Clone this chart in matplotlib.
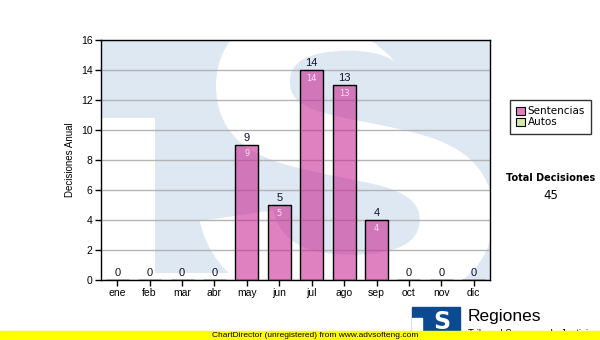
import matplotlib
matplotlib.use("Agg")

import matplotlib.pyplot as plt
import numpy as np
from matplotlib.patches import Rectangle, PathPatch, Polygon
from matplotlib.textpath import TextPath
from matplotlib.font_manager import FontProperties
from matplotlib.transforms import Affine2D


meses = ["ene", "feb", "mar", "abr", "may", "jun",
         "jul", "ago", "sep", "oct", "nov", "dic"]
sentencias = [0, 0, 0, 0, 9, 5, 14, 13, 4, 0, 0, 0]
autos = [0, 0, 0, 0, 0, 0, 0, 0, 0, 0, 0, 0]
total = 45

rosa = "#cb2b96"
verde = "#d4eaa0"
azul_claro = "#dde8f2"


def px(x, y):
    # pixel del lienzo -> coordenadas del eje
    return ((x - 101) / 389, (280 - y) / 240)


fig = plt.figure(figsize=(6, 3.4), dpi=100)
ax = fig.add_axes([101 / 600, 60 / 340, 389 / 600, 240 / 340])

# marca de agua "TS"
ax.set_facecolor(azul_claro)
ax.add_patch(Rectangle((0, 0), 0.139, 0.675, transform=ax.transAxes,
                       color="white", zorder=0, lw=0))
ax.add_patch(Rectangle((0, 0), 0.55, 0.03, transform=ax.transAxes,
                       color="white", zorder=0, lw=0))
tp = TextPath((0, 0), "S", size=1, prop=FontProperties(family="Liberation Sans", weight="bold"))
ext = tp.get_extents()
x0, x1, y0, y1 = 0.265, 1.0, -0.1, 1.15
tr = (Affine2D().translate(-ext.x0, -ext.y0)
      .scale((x1 - x0) / ext.width, (y1 - y0) / ext.height)
      .translate(x0, y0) + ax.transAxes)
s_patch = PathPatch(tp, transform=tr, facecolor="white", edgecolor="white",
                    lw=5, zorder=0)
ax.add_patch(s_patch)
s_patch.set_clip_path(ax.patch)
esquina = [px(412, 112), px(410, 92), px(402, 72), px(390, 56), px(376, 44),
           px(368, 40), px(490, 40), px(490, 112)]
ax.add_patch(Polygon(esquina, closed=True, transform=ax.transAxes,
                     color=azul_claro, lw=0, zorder=0.5))

x = np.arange(len(meses))
ax.bar(x, sentencias, width=0.71, color=rosa, alpha=0.6, edgecolor="none", zorder=3)
ax.bar(x, sentencias, width=0.71, facecolor="none", edgecolor="black", lw=1, zorder=4)

for xi, v in zip(x, sentencias):
    ax.text(xi, v + 0.15, str(v), ha="center", va="bottom", fontsize=8,
            family="Liberation Sans", color="#101030", zorder=5)
    if v > 0:
        ax.text(xi, v - 0.25, str(v), ha="center", va="top", fontsize=6,
                family="DejaVu Sans", color="#f8e0f0", zorder=5)

ax.set_xlim(-0.5, 11.5)
ax.set_ylim(0, 16)
ax.set_yticks(range(0, 17, 2))
ax.set_xticks(x)
ax.set_xticklabels(meses)
ax.yaxis.grid(True, color="#b4b4b4", lw=1, zorder=1)
ax.set_axisbelow(True)
ax.tick_params(labelsize=7.5, length=4, width=1, color="black", pad=2)
for lab in ax.get_xticklabels() + ax.get_yticklabels():
    lab.set_family("Liberation Sans")
for sp in ax.spines.values():
    sp.set_linewidth(1)
ax.set_ylabel("Decisiones Anual", fontsize=7, family="Liberation Sans", labelpad=4)

# leyenda
leg_h = [Rectangle((0, 0), 1, 1, facecolor="#e080c0", edgecolor="black", lw=0.8),
         Rectangle((0, 0), 1, 1, facecolor=verde, edgecolor="black", lw=0.8)]
leg = fig.legend(leg_h, ["Sentencias", "Autos"], loc="upper left",
                 bbox_to_anchor=(510 / 600, 1 - 100 / 340), fontsize=7.5,
                 frameon=True, fancybox=False, edgecolor="black",
                 handlelength=0.8, handleheight=0.8, handletextpad=0.3,
                 borderpad=0.6, labelspacing=0.1, borderaxespad=0)
leg.get_frame().set_linewidth(1)

fig.text(551 / 600, 1 - 178 / 340, "Total Decisiones", ha="center", va="center",
         fontsize=7, weight="bold", family="DejaVu Sans")
fig.text(551 / 600, 1 - 196 / 340, str(total), ha="center", va="center",
         fontsize=8.5, family="DejaVu Sans")

# logo inferior
fig.patches.append(Rectangle((412 / 600, 1 - 336 / 340), 48 / 600, 29 / 340,
                             transform=fig.transFigure, color="#0b4a90", zorder=1))
fig.patches.append(Rectangle((412 / 600, 1 - 336 / 340), 10 / 600, 18 / 340,
                             transform=fig.transFigure, color="white", zorder=2))
fig.text(442 / 600, 1 - 322 / 340, "S", ha="center", va="center", fontsize=17,
         weight="bold", color="white", family="DejaVu Sans", zorder=3)
fig.text(468 / 600, 1 - 316 / 340, "Regiones", ha="left", va="center",
         fontsize=12.5, family="Liberation Sans", color="black", zorder=2)
fig.text(468 / 600, 1 - 334 / 340, "Tribunal Supremo de Justicia", ha="left",
         va="center", fontsize=7, family="Liberation Sans", zorder=2)

# banda amarilla
fig.patches.append(Rectangle((0, 0), 1, 9.5 / 340, transform=fig.transFigure,
                             color="#ffff00", zorder=5))
fig.text(315 / 600, 4.5 / 340, "ChartDirector (unregistered) from www.advsofteng.com",
         ha="center", va="center", fontsize=6, family="Liberation Sans", zorder=6)

plt.savefig("out.png", dpi=100)
plt.close()
